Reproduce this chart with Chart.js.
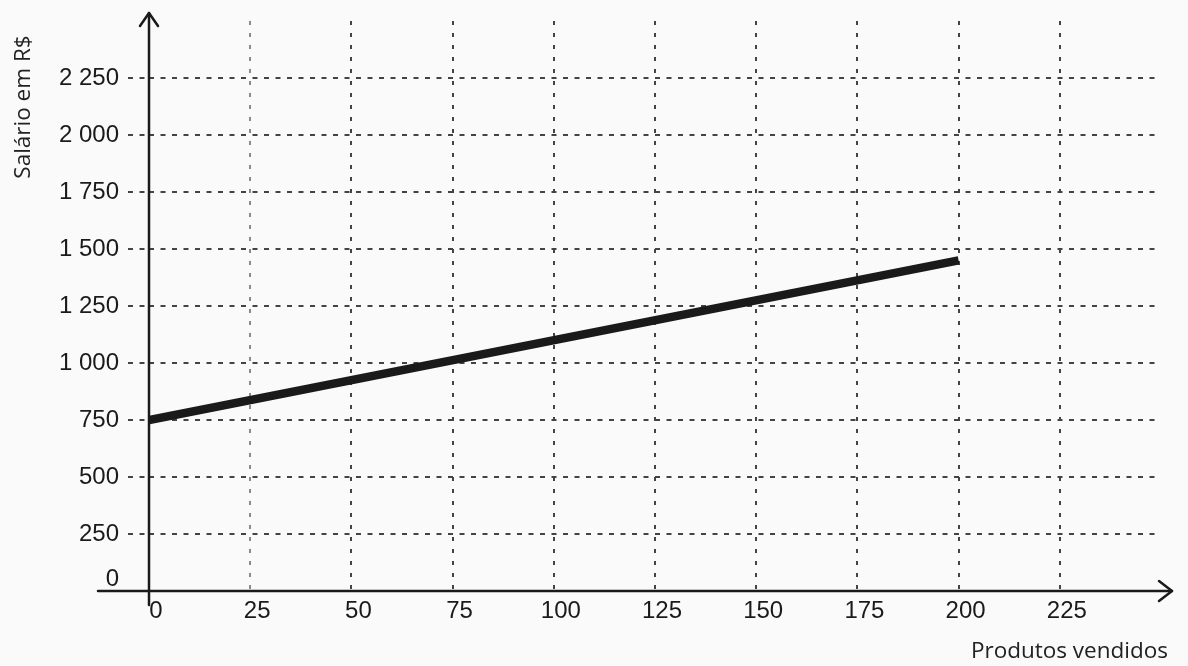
<!DOCTYPE html>
<html>
<head>
<meta charset="utf-8">
<script src="https://cdn.jsdelivr.net/npm/chart.js@4"></script>
<style>
  html, body { margin: 0; padding: 0; background: #fafafa; }
  #wrap { width: 1188px; height: 666px; }
</style>
</head>
<body>
<div id="wrap"><canvas id="salario"></canvas></div>
<script>
const produtos = [0, 200];
const salario = [750, 1450];
const xTicks = [0, 25, 50, 75, 100, 125, 150, 175, 200, 225];
const yTicks = [0, 250, 500, 750, 1000, 1250, 1500, 1750, 2000, 2250];

const fmt = v => String(v).replace(/\B(?=(\d{3})+(?!\d))/g, ' ');

// eixos com setas e títulos
const eixos = {
  id: 'eixos',
  afterDraw(chart) {
    const c = chart.ctx, a = chart.chartArea;
    c.save();
    c.strokeStyle = '#1a1a1a';
    c.lineWidth = 2.5;
    c.lineCap = 'round';
    c.lineJoin = 'round';
    // eixo y
    c.beginPath();
    c.moveTo(a.left, a.bottom + 14);
    c.lineTo(a.left, 13);
    c.stroke();
    c.beginPath();
    c.moveTo(a.left - 9, 26);
    c.lineTo(a.left, 13);
    c.lineTo(a.left + 9, 26);
    c.stroke();
    // eixo x
    c.beginPath();
    c.moveTo(98, a.bottom);
    c.lineTo(1172, a.bottom);
    c.stroke();
    c.beginPath();
    c.moveTo(1159, a.bottom - 10);
    c.lineTo(1172, a.bottom);
    c.lineTo(1159, a.bottom + 10);
    c.stroke();
    // títulos
    c.fillStyle = '#222';
    c.font = '22.5px "Open Sans"';
    c.textAlign = 'right';
    c.textBaseline = 'alphabetic';
    c.fillText('Produtos vendidos', 1168, 658);
    c.translate(30, 107);
    c.rotate(-Math.PI / 2);
    c.textAlign = 'center';
    c.fillText('Salário em R$', 0, 0);
    c.restore();
  }
};

new Chart(document.getElementById('salario'), {
  type: 'line',
  data: {
    datasets: [{
      data: produtos.map((p, i) => ({ x: p, y: salario[i] })),
      borderColor: '#1a1a1a',
      borderWidth: 8.5,
      borderCapStyle: 'butt',
      pointRadius: 0,
      tension: 0,
      fill: false
    }]
  },
  options: {
    responsive: true,
    maintainAspectRatio: false,
    animation: false,
    layout: { padding: { left: 0, right: 27, top: 20, bottom: 0 } },
    plugins: { legend: { display: false }, tooltip: { enabled: false } },
    scales: {
      x: {
        type: 'linear',
        min: 0,
        max: 250,
        afterFit: s => { s.height = 75; },
        afterBuildTicks: s => { s.ticks = xTicks.map(v => ({ value: v })); },
        border: { display: false, dash: [4, 8] },
        grid: {
          color: ctx => ctx.tick && ctx.tick.value === 25 ? '#8a8a8a' : '#444',
          lineWidth: 2,
          drawTicks: false
        },
        ticks: {
          color: '#1a1a1a',
          font: { family: 'Liberation Sans', size: 24 },
          padding: 6,
          labelOffset: 7,
          maxRotation: 0,
          callback: v => fmt(v)
        }
      },
      y: {
        type: 'linear',
        min: 0,
        max: 2500,
        afterFit: s => { s.width = 149; },
        afterBuildTicks: s => { s.ticks = yTicks.map(v => ({ value: v })); },
        border: { display: false, dash: [5, 6.5] },
        grid: {
          color: '#444',
          lineWidth: 2,
          drawTicks: true,
          tickLength: 21,
          tickColor: '#444',
          tickBorderDash: [5, 6.5]
        },
        ticks: {
          color: '#1a1a1a',
          font: { family: 'Liberation Sans', size: 24, lineHeight: 1 },
          padding: 9,
          // o zero fica acima do eixo x
          callback: v => v === 0 ? ['0', ''] : fmt(v)
        }
      }
    }
  },
  plugins: [eixos]
});
</script>
</body>
</html>
